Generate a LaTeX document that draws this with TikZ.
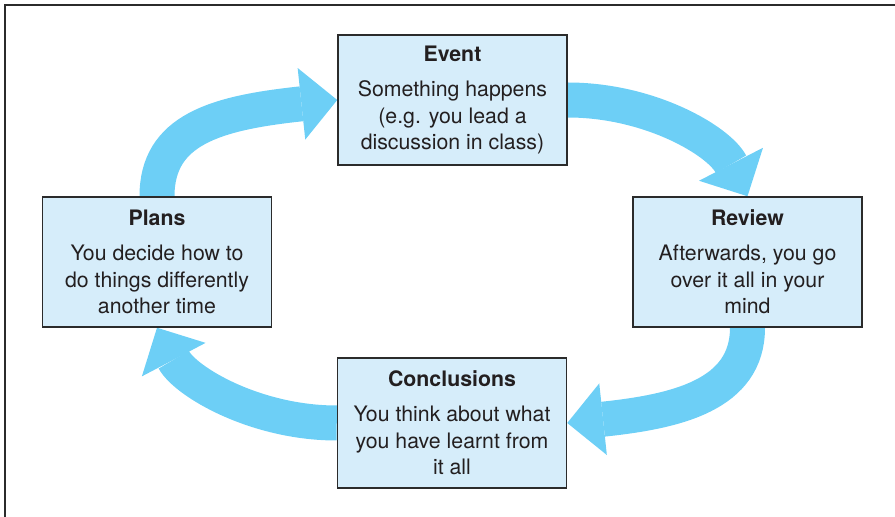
\documentclass[tikz,border=0pt]{standalone}
\usepackage{fontspec}
\setmainfont{TeX Gyre Heros}
\usetikzlibrary{arrows.meta,backgrounds}
\definecolor{boxfill}{HTML}{D6EDFA}
\definecolor{boxline}{HTML}{2B2B2B}
\definecolor{cycblue}{HTML}{6DCFF6}
\definecolor{inktext}{HTML}{231F20}
\tikzset{
  stage/.style={rectangle, draw=boxline, line width=1.5pt, fill=boxfill,
    minimum width=229pt, minimum height=130pt, inner sep=0pt, align=center,
    text=inktext, font=\fontsize{21.3}{26.3}\selectfont},
  cyc/.style={draw=cycblue, line width=35pt,
    -{Triangle[width=72pt,length=36pt,line width=0pt]}, fill=none},
  frameline/.style={draw=boxline, line width=1.5pt}
}
\begin{document}
\begin{tikzpicture}[x=1pt,y=1pt]
  \useasboundingbox (0,0) rectangle (895,517);
  % outer frame (left and top edges)
  \draw[frameline] (5,0) -- (5,512) -- (895,512);

  % the four stages of the cycle
  \node[stage] (event) at (452.5,417)
    {\textbf{Event}\\[8.7pt]Something happens\\(e.g. you lead a\\discussion in class)};
  \node[stage] (review) at (747.5,255)
    {\textbf{Review}\\[8.7pt]Afterwards, you go\\over it all in your\\mind};
  \node[stage] (concl) at (452,94)
    {\textbf{Conclusions}\\[8.7pt]You think about what\\you have learnt from\\it all};
  \node[stage] (plans) at (157,255)
    {\textbf{Plans}\\[8.7pt]You decide how to\\do things differently\\another time};

  % curved arrows joining the stages
  \begin{scope}[on background layer]
    \draw[cyc] (plans.north) .. controls (157,387) and (215,404) .. (event.west);
    \draw[cyc] (event.east) .. controls (650,417) and (719,376) .. (review.north);
    \draw[cyc] (review.south) .. controls (747.5,122) and (676.6,105.6) .. (concl.east);
    \draw[cyc] (concl.west) .. controls (255,94) and (185.2,135.6) .. (plans.south);
  \end{scope}
\end{tikzpicture}
\end{document}
